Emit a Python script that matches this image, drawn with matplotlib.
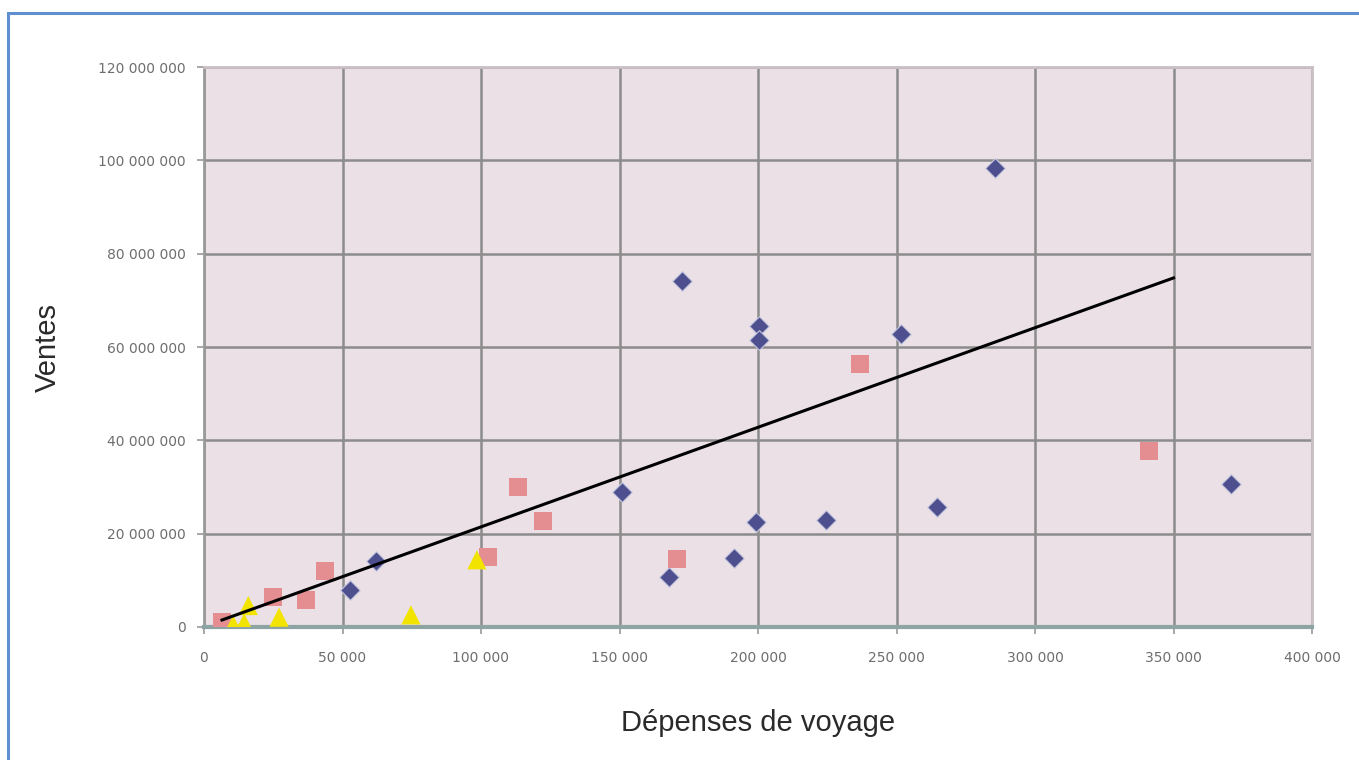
"""
Scatter of sales vs travel spending, three groups plus a linear trend line
"""

import matplotlib
matplotlib.use('Agg')
import matplotlib.pyplot as plt
from matplotlib.patches import Rectangle
from matplotlib.ticker import FuncFormatter

# Group 1 (dark blue diamonds)
blue_x = [285700, 172400, 200200, 200200, 251800, 150800, 199100, 224700,
          264800, 370900, 191200, 167700, 62000, 52700]
blue_y = [98.4e6, 74.2e6, 64.5e6, 61.5e6, 62.8e6, 28.9e6, 22.5e6, 22.9e6,
          25.7e6, 30.7e6, 14.8e6, 10.7e6, 14.1e6, 7.9e6]

# Group 2 (light red squares)
red_x = [236700, 341300, 113300, 122300, 102500, 170600, 43700, 24900, 36800, 6500]
red_y = [56.4e6, 37.7e6, 30.0e6, 22.7e6, 15.0e6, 14.6e6, 12.0e6, 6.4e6, 5.8e6, 1.1e6]

# Group 3 (yellow triangles)
yellow_x = [98500, 74700, 27100, 16000, 14500, 10500]
yellow_y = [14.4e6, 2.6e6, 2.1e6, 4.6e6, 0.9e6, 0.5e6]

# Linear trend line end points
trend_x = [6500, 350000]
trend_y = [1.5e6, 74.8e6]

x_ticks = [0, 50000, 100000, 150000, 200000, 250000, 300000, 350000, 400000]
y_ticks = [0, 20e6, 40e6, 60e6, 80e6, 100e6, 120e6]

COLORS = {
    'blue': '#4d4f8e',
    'red': '#e58e92',
    'yellow': '#f2e400',
    'bg': '#eae0e5',
    'grid': '#8c8c8c',
    'frame': '#5f8fcf',
    'tick': '#6e6e6e',
}


def space_thousands(v, pos):
    return f'{v:,.0f}'.replace(',', ' ')


fig = plt.figure(figsize=(13.59, 7.6), dpi=100)
fig.patch.set_facecolor('white')

# Blue frame around the picture
fig.patches.append(Rectangle((8 / 1359, -0.05), 1.1, (760 - 13) / 760 + 0.05,
                             transform=fig.transFigure, fill=False,
                             edgecolor=COLORS['frame'], linewidth=2.2))

ax = fig.add_axes([204 / 1359, 133 / 760, 1108 / 1359, 560 / 760])
ax.set_facecolor(COLORS['bg'])

ax.scatter(blue_x, blue_y, marker='D', s=100, color=COLORS['blue'],
           edgecolors='#c8c8e0', linewidths=0.8, zorder=3)
ax.scatter(red_x, red_y, marker='s', s=170, color=COLORS['red'],
           edgecolors='none', zorder=3)
ax.scatter(yellow_x, yellow_y, marker='^', s=190, color=COLORS['yellow'],
           edgecolors='none', zorder=3)
ax.plot(trend_x, trend_y, color='black', linewidth=2.2, zorder=4)

ax.set_xlim(0, 400000)
ax.set_ylim(0, 120e6)
ax.set_xticks(x_ticks)
ax.set_yticks(y_ticks)
ax.xaxis.set_major_formatter(FuncFormatter(space_thousands))
ax.yaxis.set_major_formatter(FuncFormatter(space_thousands))

ax.grid(True, color=COLORS['grid'], linewidth=1.8)
ax.set_axisbelow(True)

for side in ['top', 'right']:
    ax.spines[side].set_color('#c9bfc4')
    ax.spines[side].set_linewidth(2)
ax.spines['left'].set_color('#9a9a9a')
ax.spines['left'].set_linewidth(2)
ax.spines['bottom'].set_color('#8ea3a3')
ax.spines['bottom'].set_linewidth(3)

ax.tick_params(axis='both', colors='#9a9a9a', labelcolor=COLORS['tick'],
               labelsize=10, length=5, width=1.2)
ax.tick_params(axis='x', pad=12)
ax.tick_params(axis='y', pad=8)

ax.set_xlabel('Dépenses de voyage', fontsize=21, family='Liberation Sans',
              color='#2a2a2a', labelpad=32)
ax.set_ylabel('Ventes', fontsize=21, family='Liberation Sans',
              color='#2a2a2a', labelpad=26)

plt.savefig('out.png', dpi=100, facecolor='white')
plt.close()
